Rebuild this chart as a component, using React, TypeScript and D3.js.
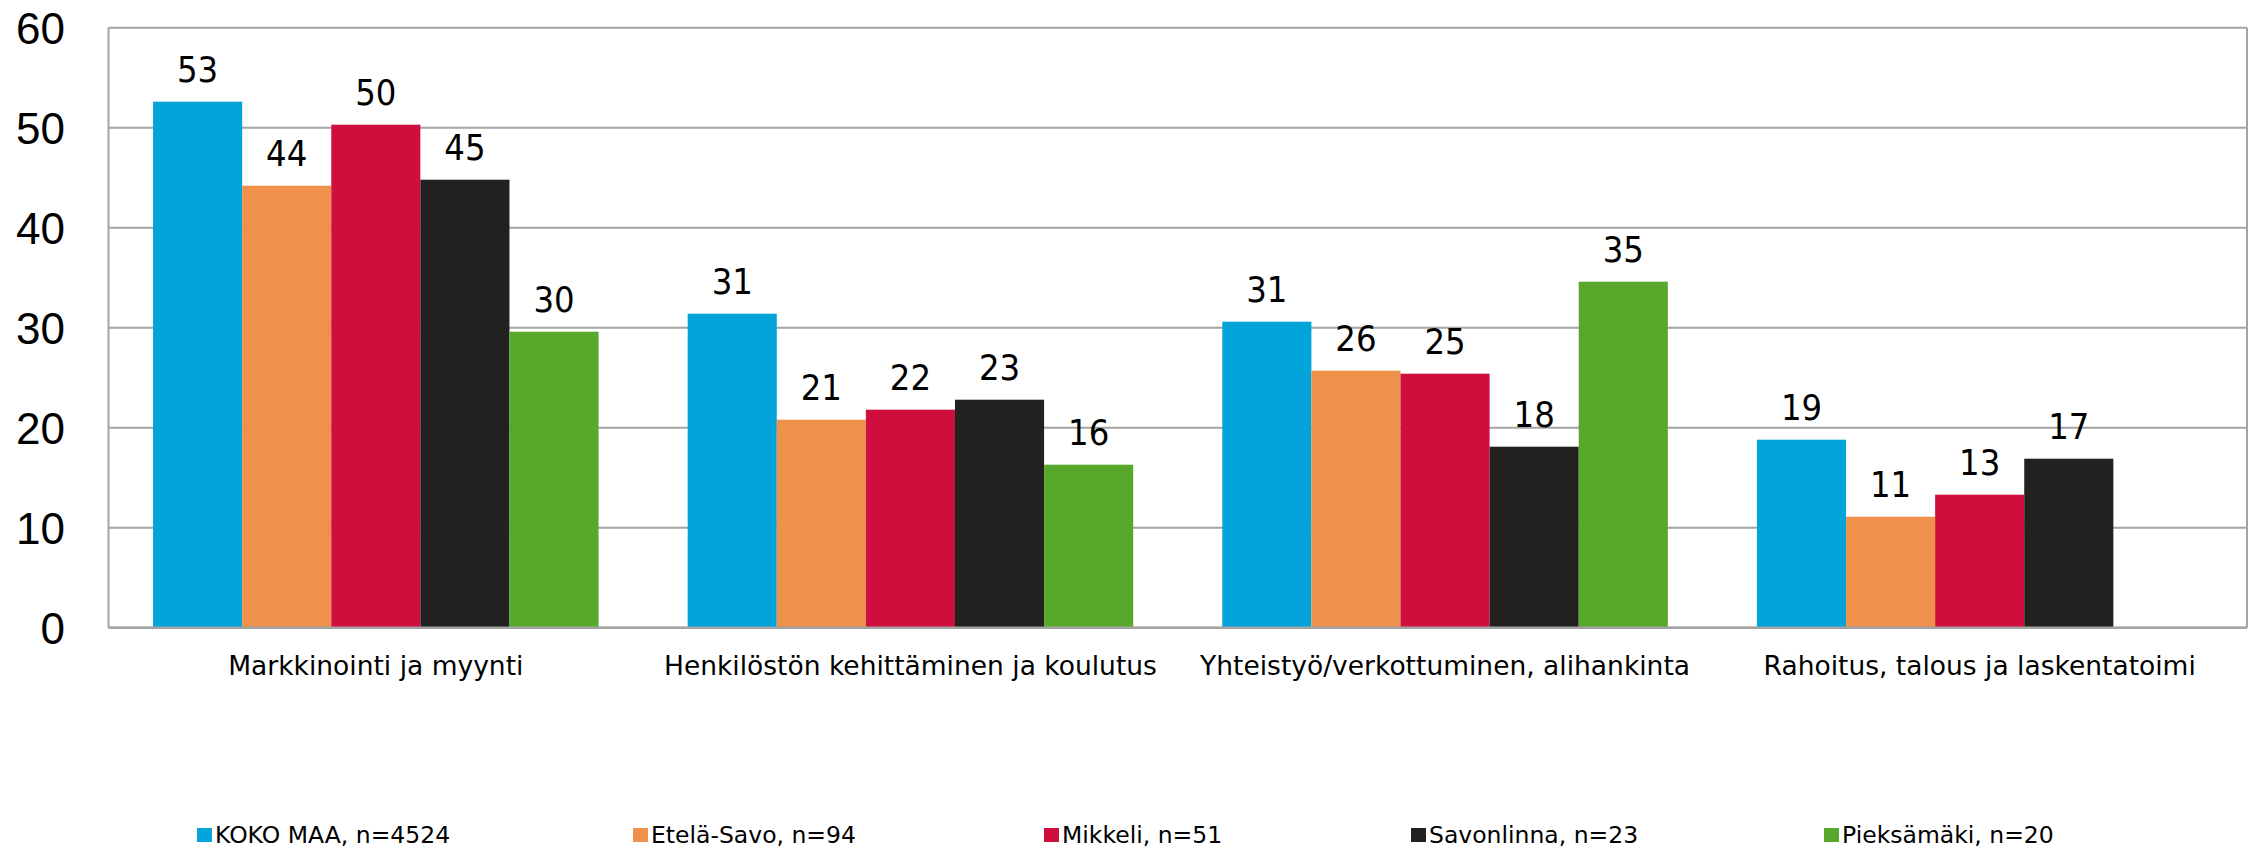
import React from "react";
import * as d3 from "d3";

const categories = [
  "Markkinointi ja myynti",
  "Henkilöstön kehittäminen ja koulutus",
  "Yhteistyö/verkottuminen, alihankinta",
  "Rahoitus, talous ja laskentatoimi",
];
const seriesNames = [
  "KOKO MAA, n=4524",
  "Etelä-Savo, n=94",
  "Mikkeli, n=51",
  "Savonlinna, n=23",
  "Pieksämäki, n=20",
];
const kokoMaa = [52.6, 31.4, 30.6, 18.8];
const etelaSavo = [44.2, 20.8, 25.7, 11.1];
const mikkeli = [50.3, 21.8, 25.4, 13.3];
const savonlinna = [44.8, 22.8, 18.1, 16.9];
const pieksamaki: (number | null)[] = [29.6, 16.3, 34.6, null];
const yTicks = [0, 10, 20, 30, 40, 50, 60];

const seriesValues = [kokoMaa, etelaSavo, mikkeli, savonlinna, pieksamaki];
const colors = ["#02A4D9", "#F0914B", "#CE0F3E", "#232120", "#58A82C"];

const W = 2257;
const H = 849;
const plot = { left: 108.5, right: 2247, top: 27.7, bottom: 627.7 };
const legendX = [197, 633, 1044, 1411, 1824];
const legendY = 828;

export default function App() {
  const x0 = d3
    .scaleBand<string>()
    .domain(categories)
    .range([plot.left, plot.right])
    .paddingInner(0)
    .paddingOuter(0);
  const x1 = d3
    .scaleBand<number>()
    .domain(d3.range(seriesNames.length))
    .range([0, x0.bandwidth()])
    .paddingInner(0)
    .paddingOuter(0.5);
  const y = d3.scaleLinear().domain([0, 60]).range([plot.bottom, plot.top]);

  const grid = "#A3A3A3";
  const labelFont = "'DejaVu Sans', sans-serif";

  return (
    <svg
      width={W}
      height={H}
      style={{ position: "absolute", left: 0, top: 0, background: "#fff" }}
    >
      {yTicks.map((t) => (
        <line
          key={"g" + t}
          x1={plot.left}
          x2={plot.right}
          y1={y(t)}
          y2={y(t)}
          stroke={grid}
          strokeWidth={2}
        />
      ))}
      <line x1={plot.left} x2={plot.left} y1={plot.top} y2={plot.bottom} stroke={grid} strokeWidth={2} />
      <line x1={plot.right} x2={plot.right} y1={plot.top} y2={plot.bottom} stroke={grid} strokeWidth={2} />

      {categories.map((c, ci) =>
        seriesValues.map((vals, si) => {
          const v = vals[ci];
          if (v == null) return null;
          const bx = (x0(c) as number) + (x1(si) as number);
          const bw = x1.bandwidth();
          return (
            <g key={c + si}>
              <rect x={bx} y={y(v)} width={bw} height={y(0) - y(v)} fill={colors[si]} />
              <text
                x={bx + bw / 2}
                y={y(v) - 20}
                textAnchor="middle"
                fontFamily="'DejaVu Sans Condensed', 'DejaVu Sans', sans-serif"
                fontSize={36}
                fill="#000"
              >
                {Math.round(v)}
              </text>
            </g>
          );
        })
      )}

      <line x1={plot.left} x2={plot.right} y1={plot.bottom} y2={plot.bottom} stroke={grid} strokeWidth={2.5} />

      {yTicks.map((t) => (
        <text
          key={"t" + t}
          x={65}
          y={y(t)}
          dy="0.36em"
          textAnchor="end"
          fontFamily="'Liberation Sans', Arial, sans-serif"
          fontSize={44}
          fill="#000"
        >
          {t}
        </text>
      ))}

      {categories.map((c) => (
        <text
          key={"c" + c}
          x={(x0(c) as number) + x0.bandwidth() / 2}
          y={675}
          textAnchor="middle"
          fontFamily={labelFont}
          fontSize={26.5}
          fill="#000"
        >
          {c}
        </text>
      ))}

      {seriesNames.map((s, i) => (
        <g key={"l" + i}>
          <rect x={legendX[i]} y={legendY} width={15} height={14} fill={colors[i]} />
          <text
            x={legendX[i] + 18}
            y={legendY + 15}
            fontFamily={labelFont}
            fontSize={23.5}
            fill="#000"
          >
            {s}
          </text>
        </g>
      ))}
    </svg>
  );
}
